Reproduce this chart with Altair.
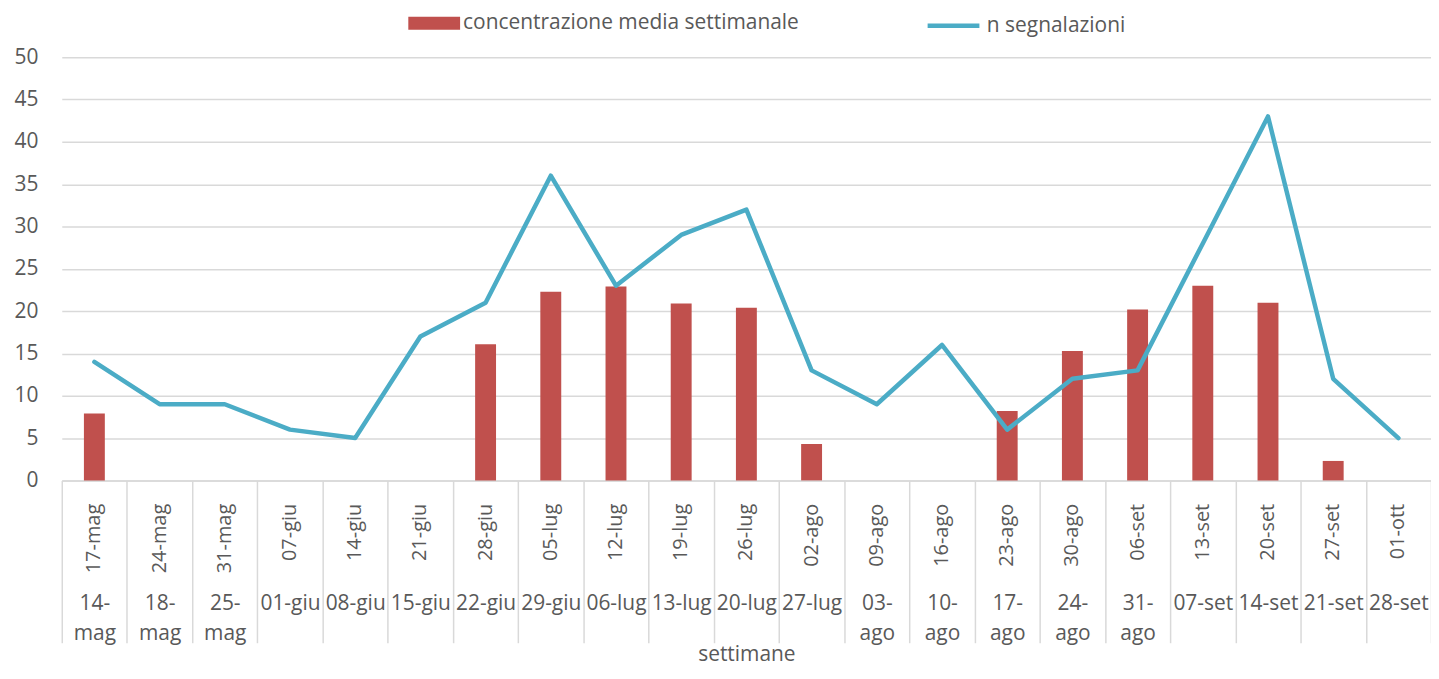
import altair as alt
import pandas as pd

# data
settimane_fine = ["17-mag", "24-mag", "31-mag", "07-giu", "14-giu", "21-giu", "28-giu",
                  "05-lug", "12-lug", "19-lug", "26-lug", "02-ago", "09-ago", "16-ago",
                  "23-ago", "30-ago", "06-set", "13-set", "20-set", "27-set", "01-ott"]
settimane_inizio = ["14-\nmag", "18-\nmag", "25-\nmag", "01-giu", "08-giu", "15-giu", "22-giu",
                    "29-giu", "06-lug", "13-lug", "20-lug", "27-lug", "03-\nago", "10-\nago",
                    "17-\nago", "24-\nago", "31-\nago", "07-set", "14-set", "21-set", "28-set"]
concentrazione = [7.9, None, None, None, None, None, 16.1, 22.3, 22.9, 20.9, 20.4, 4.3,
                  None, None, 8.2, 15.3, 20.2, 23.0, 21.0, 2.3, None]
segnalazioni = [14, 9, 9, 6, 5, 17, 21, 36, 23, 29, 32, 13, 9, 16, 6, 12, 13, 28, 43, 12, 5]
y_ticks = [0, 5, 10, 15, 20, 25, 30, 35, 40, 45, 50]
serie = ["concentrazione media settimanale", "n segnalazioni"]

df = pd.DataFrame({
    "fine": settimane_fine,
    "inizio": settimane_inizio,
    "conc": concentrazione,
    "n": segnalazioni,
    "s_conc": [serie[0]] * len(settimane_fine),
    "s_n": [serie[1]] * len(settimane_fine),
})

FONT = "Open Sans"
TXT = "#595959"
GRID = "#d9d9d9"
W, H = 1375, 425

band = dict(paddingInner=0, paddingOuter=0)

y_axis = alt.Axis(values=y_ticks, title=None, grid=True, gridColor=GRID, gridWidth=1.5,
                  domain=False, ticks=False, labelPadding=24, labelFontSize=21)
y_scale = alt.Scale(domain=[0, 50], nice=False)

bars = alt.Chart(df).mark_bar(size=21).encode(
    x=alt.X("fine:N", sort=None, scale=alt.Scale(domain=settimane_fine, **band),
            axis=alt.Axis(orient="bottom", labelAngle=270, labelPadding=23, ticks=False,
                          domain=True, domainColor=GRID, domainWidth=1.5, grid=False,
                          labelFontSize=20, title=None)),
    y=alt.Y("conc:Q", scale=y_scale, axis=y_axis),
    color=alt.Color(
        "s_conc:N",
        scale=alt.Scale(domain=[serie[0]], range=["#C0504D"]),
        legend=alt.Legend(orient="none", legendX=361, legendY=-47, title=None,
                          symbolType="M-2,-0.5H2V0.5H-2Z", symbolSize=676,
                          symbolStrokeWidth=0, labelOffset=16, labelLimit=600),
    ),
)

line = alt.Chart(df).mark_line(strokeWidth=4.5, strokeJoin="round", strokeCap="round").encode(
    x=alt.X("fine:N", sort=None, scale=alt.Scale(domain=settimane_fine, **band), axis=None),
    y=alt.Y("n:Q", scale=y_scale, axis=y_axis),
    stroke=alt.Stroke(
        "s_n:N",
        scale=alt.Scale(domain=[serie[1]], range=["#4BACC6"]),
        legend=alt.Legend(orient="none", legendX=880, legendY=-47, title=None,
                          symbolType="M-2,0H2", symbolSize=676, symbolStrokeWidth=4.5,
                          symbolFillColor="transparent", labelOffset=18, labelLimit=600),
    ),
)

separators = alt.Chart(df).mark_point(opacity=0).encode(
    x=alt.X("fine:N", sort=None, scale=alt.Scale(domain=settimane_fine, **band),
            axis=alt.Axis(orient="bottom", labels=False, domain=False, ticks=True,
                          tickBand="extent", tickSize=163, tickColor=GRID, tickWidth=1.5,
                          grid=False, title="settimane", titlePadding=0,
                          titleFontSize=21, titleFont=FONT, titleFontWeight="normal",
                          titleColor=TXT)),
)

start_labels = alt.Chart(df).mark_point(opacity=0).encode(
    x=alt.X("inizio:N", sort=None, scale=alt.Scale(domain=settimane_inizio, **band),
            axis=alt.Axis(orient="bottom", labelExpr="split(datum.label, '\\n')",
                          labelAngle=0, labelPadding=113, labelLineHeight=30,
                          labelBaseline="top", labelFontSize=21, ticks=False,
                          domain=False, grid=False, title=None)),
)

chart = alt.layer(bars, line, separators, start_labels).resolve_scale(
    x="independent"
).properties(
    width=W, height=H,
    padding={"left": 54, "top": 48, "right": 0, "bottom": 190},
    autosize=alt.AutoSizeParams(type="none"),
).configure_view(stroke=None).configure_axis(
    labelFont=FONT, labelFontSize=20, labelColor=TXT,
).configure_legend(
    labelFont=FONT, labelFontSize=21, labelColor=TXT, padding=0,
)

chart.save("out.html", embed_options={"renderer": "svg", "actions": False})
